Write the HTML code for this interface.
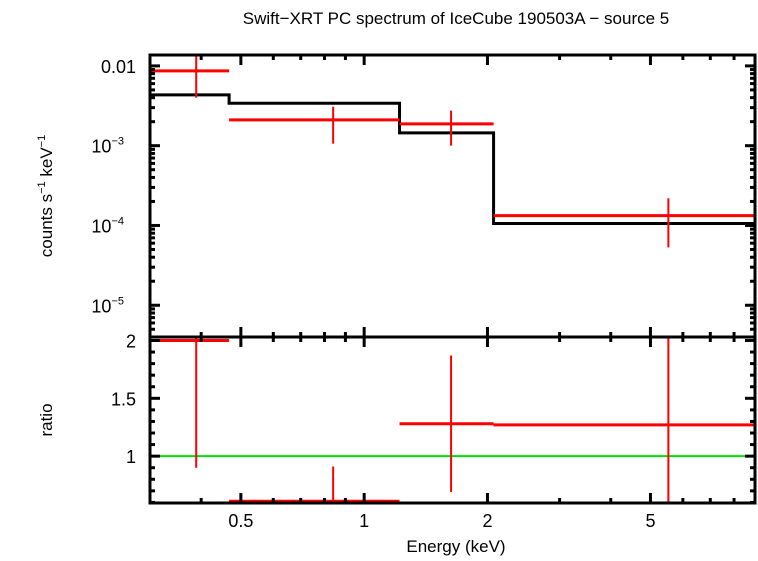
<!DOCTYPE html>
<html><head><meta charset="utf-8"><style>
body{margin:0;background:#fff;}
svg text{font-family:"Liberation Sans",sans-serif;fill:#000;}
</style></head><body>
<svg id="c" width="758" height="556" xmlns="http://www.w3.org/2000/svg">
<text x="456" y="24" font-size="17" text-anchor="middle">Swift−XRT PC spectrum of IceCube 190503A − source 5</text>
<text transform="translate(52,196) rotate(-90)" font-size="17" text-anchor="middle">counts s<tspan font-size="11" dy="-7">−1</tspan><tspan dy="7"> keV</tspan><tspan font-size="11" dy="-7">−1</tspan></text>
<text transform="translate(52,420) rotate(-90)" font-size="17" text-anchor="middle">ratio</text>
<text x="456" y="552" font-size="17" text-anchor="middle">Energy (keV)</text>
<g id="g"></g>
</svg>
<script>
const binLo=[0.3,0.468,1.22,2.07];
const binHi=[0.468,1.22,2.07,9.0];
const binCenter=[0.389,0.84,1.63,5.53];
const dataVal=[0.00866,0.00211,0.00188,0.000133];
const dataLo=[0.0040,0.00106,0.00100,0.0000531];
const dataHi=[0.0137,0.00307,0.00275,0.000219];
const modelVal=[0.00434,0.0034,0.00145,0.000106];
const ratioVal=[2.0,0.61,1.28,1.27];
const ratioLo=[0.9,0.50,0.69,0.50];
const ratioHi=[2.1,0.91,1.87,2.1];
const xTicks=[0.5,1,2,5];
const xTickLabels=["0.5","1","2","5"];
const yTicks=[0.01,0.001,0.0001,0.00001];
const yTickLabels=["0.01","10","10","10"];
const yTickExp=["","−3","−4","−5"];
const rTicks=[1,1.5,2];
const rTickLabels=["1","1.5","2"];

const L=150,R=755,T=55,M=337,B=503;
const xmin=Math.log10(0.3),xmax=Math.log10(9.0);
const X=v=>L+(Math.log10(v)-xmin)/(xmax-xmin)*(R-L);
const ymax=Math.log10(0.0137),ymin=Math.log10(0.000004);
const Y=v=>Math.max(T,Math.min(M,T+(ymax-Math.log10(v))/(ymax-ymin)*(M-T)));
const rmax=2.03,rmin=0.595;
const RY=v=>Math.max(M,Math.min(B,M+(rmax-v)/(rmax-rmin)*(B-M)));
const g=document.getElementById('g');
const NS='http://www.w3.org/2000/svg';
function ln(x1,y1,x2,y2,c,w,name){const e=document.createElementNS(NS,'line');
e.setAttribute('x1',x1);e.setAttribute('y1',y1);e.setAttribute('x2',x2);e.setAttribute('y2',y2);
e.setAttribute('stroke',c);e.setAttribute('stroke-width',w);


g.appendChild(e);return e;}
function tx(x,y,s,anchor,name){const e=document.createElementNS(NS,'text');
e.setAttribute('x',x);e.setAttribute('y',y);e.setAttribute('font-size','18');e.setAttribute('text-anchor',anchor);e.textContent=s;


g.appendChild(e);return e;}
ln(L,RY(1),R,RY(1),'#00e000',2,'ratio-unity-line');
let d='';
for(let i=0;i<binLo.length;i++){d+=(i==0?'M':'L')+X(binLo[i])+','+Y(modelVal[i])+' L'+X(binHi[i])+','+Y(modelVal[i]);}
const p=document.createElementNS(NS,'path');p.setAttribute('d',d);p.setAttribute('fill','none');p.setAttribute('stroke','#000');p.setAttribute('stroke-width','3');


g.appendChild(p);
for(let i=0;i<binLo.length;i++){
 ln(X(binLo[i]),Y(dataVal[i]),X(binHi[i]),Y(dataVal[i]),'#f00',3,'data-xerr');
 ln(X(binCenter[i]),Y(dataLo[i]),X(binCenter[i]),Y(dataHi[i]),'#f00',2,'data-yerr');
 ln(X(binLo[i]),RY(ratioVal[i]),X(binHi[i]),RY(ratioVal[i]),'#f00',3,'ratio-xerr');
 ln(X(binCenter[i]),RY(ratioLo[i]),X(binCenter[i]),RY(ratioHi[i]),'#f00',2,'ratio-yerr');
}
[[T,M],[M,B]].forEach(([a,b])=>{const r=document.createElementNS(NS,'rect');
r.setAttribute('x',L);r.setAttribute('y',a);r.setAttribute('width',R-L);r.setAttribute('height',b-a);
r.setAttribute('fill','none');r.setAttribute('stroke','#000');r.setAttribute('stroke-width','3');


g.appendChild(r);});
for(let dec of [0.1,1]){for(let k=1;k<10;k++){const v=k*dec;if(v<0.3||v>9)continue;
 const x=X(v),maj=xTicks.includes(v),len=maj?10:5;
 [[T,1],[M,1],[M,-1],[B,-1]].forEach(([y,s])=>ln(x,y,x,y+s*len,'#000',3,'x-tick'));}}
xTicks.forEach((v,i)=>tx(X(v),527,xTickLabels[i],'middle','x-tick-label'));
for(let e=-6;e<=-2;e++){for(let k=1;k<10;k++){const v=k*Math.pow(10,e);if(v<0.000004||v>0.0137)continue;
 const y=Y(v),len=k==1?10:5;ln(L,y,L+len,y,'#000',3,'y-tick');ln(R,y,R-len,y,'#000',3,'y-tick');}}
yTicks.forEach((v,i)=>{const t=tx(136,Y(v)+7,yTickLabels[i],'end','y-tick-label');
 if(yTickExp[i]){t.setAttribute('x',124);const s=document.createElementNS(NS,'tspan');s.setAttribute('font-size','11');s.setAttribute('dy','-8');s.textContent=yTickExp[i];t.appendChild(s);}});
for(let v=0.6;v<=2.01;v+=0.1){const y=RY(v),maj=Math.abs(v*2-Math.round(v*2))<1e-6,len=maj?10:5;
 ln(L,y,L+len,y,'#000',3,'ratio-tick');ln(R,y,R-len,y,'#000',3,'ratio-tick');}
rTicks.forEach((v,i)=>tx(136,RY(v)+7,rTickLabels[i],'end','ratio-tick-label'));
</script>
</body></html>
